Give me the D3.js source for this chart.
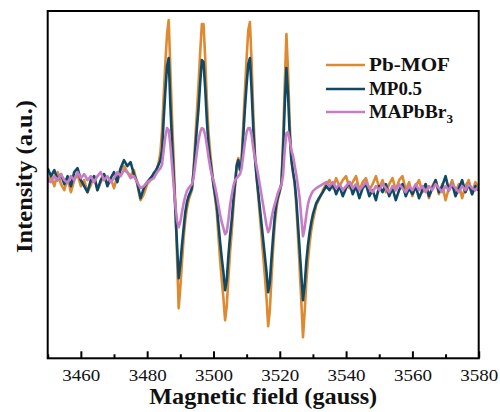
<!DOCTYPE html>
<html><head><meta charset="utf-8">
<script src="https://cdn.jsdelivr.net/npm/d3@7"></script>
<style>body{margin:0;background:#fff}svg{display:block}</style>
</head><body>
<svg id="c" width="500" height="412"></svg>
<script>
// Magnetic field (gauss) sample positions
const field = [
3450,3451,3452,3453,3454,3455,3456,3457,3458,3459,3460,3461,3462,3463,3464,3465,3466,3467,3468,3469,3470,3471,3472,3473,3474,3475,3476,3477,3478,3479,3480,3481,
3481.5,3482,3482.5,3483,3483.5,3484,3484.5,3485,3485.5,3486,3486.5,3487,3487.5,3488,3488.5,3489,3489.5,3490,3490.5,3491,3491.5,3492,3492.5,3493,3493.5,3494,3494.5,3495,3495.5,3496,3496.5,3497,3497.5,3498,3498.5,3499,3499.5,3500,3500.5,3501,3501.5,3502,3502.5,3503,3503.5,3504,3504.5,3505,3505.5,3506,3506.5,3507,3507.5,3508,3508.5,3509,3509.5,3510,3510.5,3511,3511.5,3512,3512.5,3513,3513.5,3514,3514.5,3515,3515.5,3516,3516.5,3517,3517.5,3518,3518.5,3519,3519.5,3520,3520.5,3521,3521.5,3522,3522.5,3523,3523.5,3524,3524.5,3525,3525.5,3526,3526.5,3527,3527.5,3528,3528.5,3529,3529.5,3530,
3531,3532,3533,3534,3535,3536,3537,3538,3539,3540,3541,3542,3543,3544,3545,3546,3547,3548,3549,3550,3551,3552,3553,3554,3555,3556,3557,3558,3559,3560,3561,3562,3563,3564,3565,3566,3567,3568,3569,3570,3571,3572,3573,3574,3575,3576,3577,3578,3579,3580];

// Intensity (a.u.) for each sample
const pbMOF = [
-2,4,-6,8,-4,-10,2,-12,0,6,-6,0,-12,-5,4,-10,-2,6,-4,2,-8,4,10,14,8,4,10,-4,-20,-14,-4,0,
3,5,8,12,18,28,50,85,118,146,160,110,62,20,-25,-75,-128,-108,-82,-58,-40,-28,-20,-15,-10,10,40,68,96,128,156,156,122,80,48,28,12,-5,-18,-32,-56,-80,-100,-118,-140,-126,-98,-72,-52,-28,-6,16,22,10,22,56,90,122,150,158,118,68,28,4,-16,-36,-56,-76,-96,-118,-146,-130,-98,-68,-44,-28,-18,-12,-2,40,96,146,108,56,22,8,-4,-26,-56,-88,-122,-157,-132,-102,-80,-63,-50,-40,
-25,-18,-10,-4,0,-8,2,-6,0,4,-8,-2,4,-10,-2,2,-10,-4,4,-8,0,-12,-4,2,-10,0,4,-10,-2,-16,-6,0,-12,-4,-18,-6,0,-14,-4,-20,-8,0,-12,-4,-18,-6,0,-14,-2,-8];

const mp05 = [
12,4,10,0,6,-4,4,-6,8,12,0,-6,-12,0,4,-10,0,6,-6,2,8,-2,12,20,14,18,6,-2,-18,-8,-2,2,
4,7,9,12,16,20,30,62,90,114,122,75,38,4,-30,-64,-98,-84,-65,-48,-32,-22,-16,-12,-8,8,30,52,72,98,120,118,92,60,35,20,8,-5,-15,-26,-44,-62,-78,-92,-110,-100,-76,-56,-40,-20,-4,14,20,10,18,45,72,96,116,122,90,52,22,3,-12,-28,-44,-60,-76,-92,-112,-102,-78,-56,-36,-23,-16,-10,-4,30,75,112,85,45,20,8,-2,-20,-45,-70,-95,-120,-105,-82,-65,-52,-42,-34,
-23,-17,-12,-6,-10,-4,-14,-6,-16,-8,-2,-14,-6,-18,-8,-4,-16,-10,-20,-6,-12,-4,-16,-8,-20,-10,-4,-16,-8,-14,-6,-18,-10,-4,-16,-8,0,-12,-6,4,-10,-4,-16,-8,0,-12,-4,-14,-6,-10];

const maPbBr3 = [
0,-2,4,0,6,0,-3,4,0,8,2,6,0,4,-2,4,8,0,4,-2,2,8,4,10,8,2,4,-2,-8,-6,-2,0,
1,2,5,8,10,12,16,30,44,52,50,35,15,-5,-25,-40,-47,-42,-32,-23,-16,-11,-8,-6,-4,2,15,28,40,48,52,51,45,35,23,13,5,0,-7,-15,-25,-34,-42,-48,-54,-52,-40,-25,-15,-6,0,2,4,6,12,25,38,48,52,52,45,32,22,14,5,-5,-15,-25,-35,-45,-52,-48,-38,-30,-24,-18,-12,-8,-5,5,30,47,48,40,30,24,15,5,-6,-18,-38,-56,-48,-35,-24,-18,-14,-11,
-8,-6,-4,-2,-6,-2,-8,-4,-10,-6,-2,-8,-4,-10,-6,-2,-8,-12,-6,-10,-4,-8,-12,-6,-10,-4,-8,-12,-6,-10,-4,-10,-6,-12,-6,-10,-4,-8,-12,-6,-10,-4,-8,-12,-6,-10,-4,-8,-10,-6];

const xMajorTicks = [3460,3480,3500,3520,3540,3560,3580];
const xMinorTicks = [3450,3470,3490,3510,3530,3550,3570];
const seriesNames = ["Pb-MOF","MP0.5","MAPbBr3"];
const seriesColors = ["#DE8A30","#0E4A68","#C77DC4"];

const svg = d3.select("#c");
const L = 47.7, R = 478.7, T = 11, B = 358.3;
const x = d3.scaleLinear().domain([3450,3580]).range([L,R]);
const y = d3.scaleLinear().domain([-178,169]).range([B,T]);
const serif = "'Liberation Serif','Times New Roman',serif";

svg.append("rect").attr("width",500).attr("height",412).attr("fill","#fff");
svg.append("clipPath").attr("id","clip").append("rect")
  .attr("x",L).attr("y",T).attr("width",R-L).attr("height",B-T);

const line = d3.line().x((d,i)=>x(field[i])).y(d=>y(d)).curve(d3.curveLinear);
const g = svg.append("g").attr("clip-path","url(#clip)");
[pbMOF, mp05, maPbBr3].forEach((s,k)=>{
  g.append("path").datum(s).attr("d",line).attr("fill","none")
   .attr("stroke",seriesColors[k]).attr("stroke-width",2.6)
   .attr("stroke-linejoin","round");
});

// axis
const ax = svg.append("g").attr("transform",`translate(0,${B})`)
  .call(d3.axisBottom(x).tickValues(xMajorTicks).tickSize(-7).tickPadding(0).tickFormat(d3.format("d")));
ax.select(".domain").remove();
ax.selectAll(".tick line").attr("stroke","#000").attr("stroke-width",2);
ax.selectAll(".tick text").attr("font-family",serif).attr("font-size",17).attr("fill","#111")
  .attr("y",23).attr("dy",0).attr("textLength",38).attr("lengthAdjust","spacingAndGlyphs");
const axm = svg.append("g").attr("transform",`translate(0,${B})`)
  .call(d3.axisBottom(x).tickValues(xMinorTicks).tickSize(-4).tickFormat(""));
axm.select(".domain").remove();
axm.selectAll(".tick line").attr("stroke","#000").attr("stroke-width",2);

svg.append("rect").attr("x",L).attr("y",T).attr("width",R-L).attr("height",B-T)
  .attr("fill","none").attr("stroke","#000").attr("stroke-width",2);

svg.append("text").attr("x",(L+R)/2).attr("y",404).attr("text-anchor","middle")
  .attr("font-family",serif).attr("font-weight","bold").attr("font-size",23)
  .attr("textLength",228).attr("lengthAdjust","spacingAndGlyphs").attr("fill","#111")
  .text("Magnetic field (gauss)");
svg.append("text").attr("transform","translate(32,176.5) rotate(-90)").attr("text-anchor","middle")
  .attr("font-family",serif).attr("font-weight","bold").attr("font-size",24)
  .attr("textLength",153).attr("lengthAdjust","spacingAndGlyphs").attr("fill","#111")
  .text("Intensity (a.u.)");

// legend
const legY = [65,89,112];
const legW = [81,53,84];
seriesNames.forEach((n,k)=>{
  svg.append("line").attr("x1",326).attr("x2",365).attr("y1",legY[k]).attr("y2",legY[k])
    .attr("stroke",seriesColors[k]).attr("stroke-width",2.6);
  const t = svg.append("text").attr("x",369).attr("y",legY[k]+6)
    .attr("font-family",serif).attr("font-weight","bold").attr("font-size",18).attr("fill","#111")
    .attr("textLength",legW[k]).attr("lengthAdjust","spacingAndGlyphs");
  if (n === "MAPbBr3") {
    t.append("tspan").text("MAPbBr");
    t.append("tspan").attr("font-size",12).attr("dy",5).text("3");
  } else t.text(n);
});
</script>
</body></html>
